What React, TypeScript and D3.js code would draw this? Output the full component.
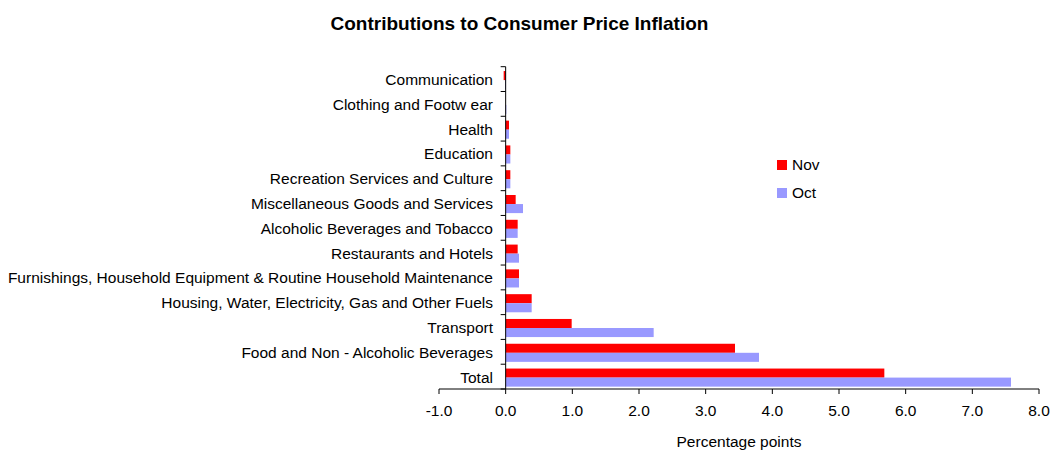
import React from "react";
import * as d3 from "d3";

const categories = [
  "Communication",
  "Clothing and Footw ear",
  "Health",
  "Education",
  "Recreation Services and Culture",
  "Miscellaneous Goods and Services",
  "Alcoholic Beverages and Tobacco",
  "Restaurants and Hotels",
  "Furnishings, Household Equipment & Routine Household Maintenance",
  "Housing, Water, Electricity, Gas and Other Fuels",
  "Transport",
  "Food and Non - Alcoholic Beverages",
  "Total",
];
const novValues = [-0.03, 0.0, 0.05, 0.07, 0.07, 0.15, 0.18, 0.18, 0.2, 0.39, 0.99, 3.44, 5.68];
const octValues = [-0.01, 0.01, 0.05, 0.07, 0.07, 0.26, 0.18, 0.2, 0.2, 0.39, 2.22, 3.8, 7.58];
const xTicks = [-1, 0, 1, 2, 3, 4, 5, 6, 7, 8];
const seriesNames = ["Nov", "Oct"];
const seriesColors = ["#FF0000", "#9999FF"];

export default function App() {
  const width = 1052;
  const height = 450;
  const x = d3.scaleLinear().domain([-1, 8]).range([439, 1039]);
  const y = d3.scaleBand<string>().domain(categories).range([66.7, 389]);
  const bw = y.bandwidth();
  const barH = bw * 0.365;
  const off = bw * 0.175;
  const font = "Liberation Sans, Arial, sans-serif";
  const fs = 15.5;
  const x0 = x(0);
  return (
    <svg width={width} height={height} style={{ position: "absolute", left: 0, top: 0 }} fontFamily={font}>
      <rect width={width} height={height} fill="#fff" />
      <text x={519.5} y={30} textAnchor="middle" fontSize={19} fontWeight="bold" fill="#000">
        Contributions to Consumer Price Inflation
      </text>
      {categories.map((c, i) => {
        const y0 = y(c)!;
        const vals = [novValues[i], octValues[i]];
        return (
          <g key={c}>
            {vals.map((v, j) => (
              <rect
                key={j}
                x={Math.min(x(v), x0)}
                y={y0 + off + j * barH}
                width={Math.abs(x(v) - x0)}
                height={barH}
                fill={seriesColors[j]}
              />
            ))}
            <text x={493} y={y0 + bw / 2 + 6} textAnchor="end" fontSize={fs} fill="#000">
              {c}
            </text>
          </g>
        );
      })}
      {/* y axis */}
      <line x1={x0} x2={x0} y1={66.7} y2={389} stroke="#000" strokeWidth={1} />
      {categories.concat(["_end"]).map((c, i) => {
        const yy = 66.7 + i * bw;
        return <line key={c} x1={x0 - 5} x2={x0} y1={yy} y2={yy} stroke="#000" />;
      })}
      {/* x axis */}
      <line x1={x(-1)} x2={x(8)} y1={389} y2={389} stroke="#000" />
      {xTicks.map((t) => (
        <g key={t}>
          <line x1={x(t)} x2={x(t)} y1={389} y2={394} stroke="#000" />
          <text x={x(t)} y={416} textAnchor="middle" fontSize={fs} fill="#000">
            {t.toFixed(1)}
          </text>
        </g>
      ))}
      <text x={739} y={447} textAnchor="middle" fontSize={fs} fill="#000">
        Percentage points
      </text>
      {seriesNames.map((s, i) => (
        <g key={s}>
          <rect x={777} y={160 + i * 28} width={10} height={10} fill={seriesColors[i]} />
          <text x={792} y={170 + i * 28} fontSize={fs} fill="#000">
            {s}
          </text>
        </g>
      ))}
    </svg>
  );
}
